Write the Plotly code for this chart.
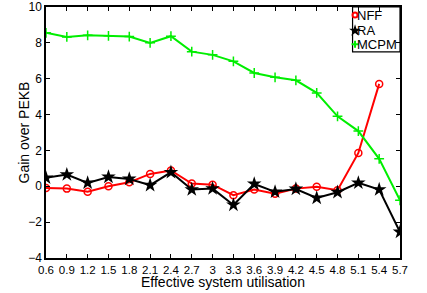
import plotly.graph_objects as go

x_labels = ["0.6", "0.9", "1.2", "1.5", "1.8", "2.1", "2.4", "2.7", "3", "3.3",
            "3.6", "3.9", "4.2", "4.5", "4.8", "5.1", "5.4", "5.7"]
x_vals = [0.6, 0.9, 1.2, 1.5, 1.8, 2.1, 2.4, 2.7, 3.0, 3.3,
          3.6, 3.9, 4.2, 4.5, 4.8, 5.1, 5.4, 5.7]
y_ticks = [-4, -2, 0, 2, 4, 6, 8, 10]
nff = [-0.09, -0.13, -0.31, 0.0, 0.22, 0.69, 0.88, 0.15, 0.09, -0.5,
       -0.18, -0.42, -0.13, -0.02, -0.22, 1.86, 5.71]
ra = [0.47, 0.65, 0.19, 0.52, 0.41, 0.06, 0.78, -0.18, -0.13, -1.04,
      0.13, -0.31, -0.15, -0.65, -0.33, 0.19, -0.18, -2.55]
mcpm = [8.56, 8.33, 8.42, 8.39, 8.35, 8.0, 8.37, 7.51, 7.33, 6.97,
        6.32, 6.08, 5.91, 5.21, 3.9, 3.08, 1.53, -0.78]
names = ["NFF", "RA", "MCPM"]
colors = ["#ff0000", "#000000", "#00ee00"]

font = "Liberation Sans, Arial, sans-serif"
W, H = 427, 293
L, R, T, B = 46, 27, 7, 35

markers = [
    dict(symbol="circle-open", size=7, color=colors[0], line=dict(width=1.5, color=colors[0])),
    dict(symbol="star", size=11, color=colors[1], line=dict(width=0)),
    dict(symbol="cross-thin-open", size=7, color=colors[2], line=dict(width=1.5, color=colors[2])),
]
legend_markers = [
    dict(symbol="circle-open", size=5, color=colors[0], line=dict(width=2, color=colors[0])),
    dict(symbol="star", size=9, color=colors[1], line=dict(width=0)),
    dict(symbol="cross-thin-open", size=5, color=colors[2], line=dict(width=2, color=colors[2])),
]
data = [nff, ra, mcpm]

fig = go.Figure()
for name, ys, col, mk in zip(names, data, colors, markers):
    fig.add_trace(go.Scatter(x=x_vals[:len(ys)], y=ys, mode="lines+markers", name=name,
                             line=dict(color=col, width=2), marker=mk, showlegend=False))

# compact MATLAB-style legend drawn on an overlay axis in [0,1] coordinates
leg_rows = [0.968, 0.906, 0.852]
for name, mk, yy in zip(names, legend_markers, leg_rows):
    fig.add_trace(go.Scatter(x=[0.873], y=[yy], mode="markers", marker=mk,
                             xaxis="x2", yaxis="y2", showlegend=False, hoverinfo="skip"))
    fig.add_annotation(x=0.876, y=yy, xref="paper", yref="paper", text=name,
                       showarrow=False, xanchor="left", yanchor="middle", borderpad=0,
                       font=dict(size=13, family=font, color="#000"))
fig.add_shape(type="rect", xref="paper", yref="paper", x0=0.866, x1=1.0, y0=0.821, y1=1.0,
              line=dict(color="#000", width=1.2), fillcolor="white", layer="below")

fig.add_annotation(x=0.5, y=-24 / 251, xref="paper", yref="paper",
                   text="Effective system utilisation", showarrow=False, borderpad=0,
                   xanchor="center", yanchor="middle", font=dict(size=14, family=font))
fig.add_annotation(x=-23 / 354, y=0.5, xref="paper", yref="paper",
                   text="Gain over PEKB", showarrow=False, textangle=-90,
                   xanchor="center", yanchor="middle", font=dict(size=14, family=font))

fig.update_layout(
    width=W, height=H,
    margin=dict(l=L, r=R, t=T, b=B, autoexpand=False),
    paper_bgcolor="white", plot_bgcolor="white",
    font=dict(family=font, size=12, color="#000"),
    showlegend=False,
    xaxis=dict(range=[0.6, 5.7], tickvals=x_vals, ticktext=x_labels,
               ticks="inside", ticklen=4, tickcolor="#000", mirror="ticks",
               showline=True, linecolor="#000", linewidth=1.5, showgrid=False,
               zeroline=False, tickfont=dict(size=11.5), automargin=False),
    yaxis=dict(range=[-4, 10], tickvals=y_ticks,
               ticks="inside", ticklen=4, tickcolor="#000", mirror="ticks",
               showline=True, linecolor="#000", linewidth=1.5, showgrid=False,
               zeroline=False, tickfont=dict(size=12), automargin=False),
    xaxis2=dict(range=[0, 1], overlaying="x", visible=False, fixedrange=True),
    yaxis2=dict(range=[0, 1], overlaying="y", visible=False, fixedrange=True),
)
fig.write_html("out.html", config={"displayModeBar": False},
               post_script="document.body.style.margin='0';document.body.style.overflow='hidden';")
